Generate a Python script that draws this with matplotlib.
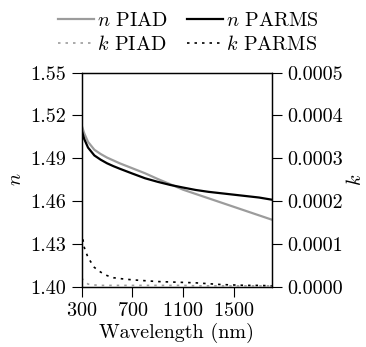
import matplotlib
matplotlib.use('Agg')
import matplotlib.pyplot as plt
from matplotlib.ticker import FormatStrFormatter

# Computer Modern look
plt.rcParams['font.family'] = 'serif'
plt.rcParams['font.serif'] = ['cmr10']
plt.rcParams['mathtext.fontset'] = 'cm'
plt.rcParams['axes.formatter.use_mathtext'] = True

FONT_SIZE = 14.5

# Data
wavelength = [300, 320, 350, 400, 450, 500, 550, 600, 700, 800, 900,
              1000, 1100, 1200, 1300, 1400, 1500, 1600, 1700, 1800]
n_piad = [1.5130, 1.5075, 1.5015, 1.4960, 1.4930, 1.4905, 1.4885, 1.4865,
          1.4830, 1.4795, 1.4755, 1.4718, 1.4680, 1.4650, 1.4620, 1.4590,
          1.4560, 1.4530, 1.4500, 1.4470]
n_parms = [1.5095, 1.5035, 1.4975, 1.4920, 1.4890, 1.4865, 1.4845, 1.4827,
           1.4793, 1.4760, 1.4735, 1.4713, 1.4695, 1.4678, 1.4665, 1.4655,
           1.4645, 1.4635, 1.4625, 1.4610]
k_piad = [0.000020, 0.000014, 0.000006, 0.000004, 0.000003, 0.000003,
          0.000003, 0.000003, 0.000003, 0.000003, 0.000003, 0.000003,
          0.000003, 0.000002, 0.000002, 0.000002, 0.000002, 0.000002,
          0.000002, 0.000002]
k_parms = [0.000128, 0.000092, 0.000068, 0.000045, 0.000034, 0.000026,
           0.000021, 0.000019, 0.000016, 0.000014, 0.000012, 0.000011,
           0.000010, 0.000009, 0.000007, 0.000005, 0.000004, 0.000003,
           0.000003, 0.000002]

n_ticks = [1.40, 1.43, 1.46, 1.49, 1.52, 1.55]
k_ticks = [0.0, 0.0001, 0.0002, 0.0003, 0.0004, 0.0005]
x_ticks = [300, 700, 1100, 1500]

GRAY = '#9c9c9c'
DOT = (0, (1.5, 3))

fig = plt.figure(figsize=(3.66, 3.47), dpi=100)
ax = fig.add_axes([0.2232, 0.1738, 0.5192, 0.6167])
ax2 = ax.twinx()

l1, = ax.plot(wavelength, n_piad, color=GRAY, lw=1.6, label='$n$ PIAD')
l2, = ax.plot(wavelength, n_parms, color='black', lw=1.6, label='$n$ PARMS')
l3, = ax2.plot(wavelength, k_piad, color=GRAY, lw=1.2, linestyle=DOT, label='$k$ PIAD')
l4, = ax2.plot(wavelength, k_parms, color='black', lw=1.2, linestyle=DOT, label='$k$ PARMS')

ax.set_xlim(300, 1800)
ax.set_ylim(1.40, 1.55)
ax2.set_ylim(0, 0.0005)
ax.set_xticks(x_ticks)
ax.set_yticks(n_ticks)
ax2.set_yticks(k_ticks)
ax.yaxis.set_major_formatter(FormatStrFormatter('%.2f'))
ax2.yaxis.set_major_formatter(FormatStrFormatter('%.4f'))

for a in (ax, ax2):
    a.tick_params(direction='out', length=7.5, width=0.8, labelsize=FONT_SIZE)
    for s in a.spines.values():
        s.set_linewidth(0.9)

ax.set_xlabel('Wavelength (nm)', fontsize=FONT_SIZE, labelpad=2)
ax.set_ylabel('$n$', fontsize=FONT_SIZE, labelpad=4)
ax2.set_ylabel('$k$', fontsize=FONT_SIZE, labelpad=2)

# legend fills column-wise: order so rows read n..., k...
fig.legend(handles=[l1, l3, l2, l4], loc='center', ncol=2,
           bbox_to_anchor=(0.515, 0.905), frameon=False, fontsize=FONT_SIZE,
           handlelength=1.8, handletextpad=0.15, columnspacing=0.9,
           labelspacing=0.25, borderpad=0)

fig.savefig('out.png', dpi=100)
